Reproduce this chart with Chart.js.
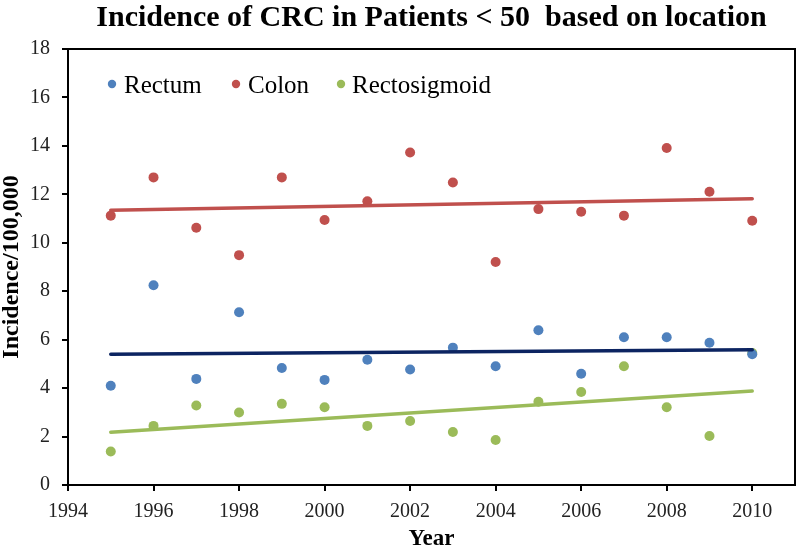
<!DOCTYPE html>
<html>
<head>
<meta charset="utf-8">
<script src="https://cdn.jsdelivr.net/npm/chart.js@4/dist/chart.umd.min.js"></script>
<style>
  html, body { margin: 0; padding: 0; background: #fff; }
  #wrap { width: 800px; height: 551px; }
</style>
</head>
<body>
<div id="wrap"><canvas id="crc_chart"></canvas></div>
<script>
// Values (incidence per 100,000, patients under 50)
const years = [1995, 1996, 1997, 1998, 1999, 2000, 2001, 2002, 2003, 2004, 2005, 2006, 2007, 2008, 2009, 2010];
const rectum = [4.1, 8.25, 4.38, 7.13, 4.83, 4.34, 5.17, 4.77, 5.67, 4.9, 6.39, 4.59, 6.1, 6.1, 5.87, 5.4];
const colon = [11.12, 12.7, 10.62, 9.49, 12.7, 10.94, 11.71, 13.73, 12.49, 9.21, 11.39, 11.28, 11.12, 13.91, 12.11, 10.91];
const rectosigmoid = [1.38, 2.44, 3.28, 2.99, 3.35, 3.21, 2.44, 2.64, 2.19, 1.86, 3.44, 3.84, 4.9, 3.21, 2.02, 5.45];

// Trend line end points, as drawn in the original
const trendYears = [1995, 2010];
const rectumTrend = [5.4, 5.58];
const colonTrend = [11.34, 11.82];
const rectosigmoidTrend = [2.18, 3.88];

const seriesNames = ['Rectum', 'Colon', 'Rectosigmoid'];
const yTicks = [0, 2, 4, 6, 8, 10, 12, 14, 16, 18];

const chartTitle = 'Incidence of CRC in Patients < 50  based on location';
const serif = '"Liberation Serif", "Times New Roman", serif';

function toPoints(xs, ys) {
    return xs.map((x, i) => ({ x: x, y: ys[i] }));
}

function pointSet(label, values, color) {
    return {
        label: label,
        data: toPoints(years, values),
        showLine: false,
        pointRadius: 5,
        pointHoverRadius: 5,
        pointBackgroundColor: color,
        pointBorderColor: color,
        pointBorderWidth: 0,
        backgroundColor: color,
        order: 1
    };
}

function trendSet(label, values, color) {
    return {
        label: label,
        data: toPoints(trendYears, values),
        showLine: true,
        borderColor: color,
        borderWidth: 3.5,
        borderCapStyle: 'round',
        pointRadius: 0,
        order: 0
    };
}

// Title centred on the plot area, plus the top/right frame and the inside legend
const decorPlugin = {
    id: 'decor',
    afterDraw(chart) {
        const ctx = chart.ctx;
        const a = chart.chartArea;
        ctx.save();

        // frame top and right
        ctx.strokeStyle = '#000';
        ctx.lineWidth = 2;
        ctx.beginPath();
        ctx.moveTo(a.left, a.top);
        ctx.lineTo(a.right, a.top);
        ctx.lineTo(a.right, a.bottom);
        ctx.stroke();

        // title
        ctx.fillStyle = '#000';
        ctx.font = 'bold 30px ' + serif;
        ctx.textAlign = 'center';
        ctx.textBaseline = 'alphabetic';
        ctx.fillText(chartTitle, (a.left + a.right) / 2, 26);

        // legend
        ctx.font = '25px ' + serif;
        ctx.textAlign = 'left';
        const legendX = [112, 236, 341];
        const textX = [124, 248, 352];
        seriesNames.forEach((name, i) => {
            const ds = chart.data.datasets[i];
            ctx.fillStyle = ds.pointBackgroundColor;
            ctx.beginPath();
            ctx.arc(legendX[i], 84, 4.2, 0, Math.PI * 2);
            ctx.fill();
            ctx.fillStyle = '#000';
            ctx.fillText(name, textX[i], 92.5);
        });
        ctx.restore();
    }
};

const config = {
    type: 'scatter',
    data: {
        datasets: [
            pointSet(seriesNames[0], rectum, '#4F81BD'),
            pointSet(seriesNames[1], colon, '#C0504D'),
            pointSet(seriesNames[2], rectosigmoid, '#9BBB59'),
            trendSet('Rectum trend', rectumTrend, '#0C2461'),
            trendSet('Colon trend', colonTrend, '#C0504D'),
            trendSet('Rectosigmoid trend', rectosigmoidTrend, '#9BBB59')
        ]
    },
    options: {
        responsive: true,
        maintainAspectRatio: false,
        animation: false,
        layout: { padding: { top: 49, right: 4, left: 0, bottom: 0 } },
        plugins: {
            legend: { display: false },
            title: { display: false },
            tooltip: { enabled: false }
        },
        scales: {
            x: {
                type: 'linear',
                min: 1994,
                max: 2011,
                afterFit(scale) { scale.height = 66; },
                border: { color: '#000', width: 2 },
                grid: { drawOnChartArea: false, color: '#000', lineWidth: 2, tickLength: 6 },
                ticks: {
                    stepSize: 2,
                    includeBounds: false,
                    color: '#222',
                    padding: 9,
                    font: { family: serif, size: 20 },
                    callback: v => String(v)
                },
                title: {
                    display: true,
                    text: 'Year',
                    color: '#000',
                    font: { family: serif, size: 23, weight: 'bold', lineHeight: 1 },
                    padding: { top: 8, bottom: 0 }
                }
            },
            y: {
                min: 0,
                max: 18,
                afterFit(scale) { scale.width = 68; },
                afterBuildTicks(scale) { scale.ticks = yTicks.map(v => ({ value: v })); },
                border: { color: '#000', width: 2 },
                grid: { drawOnChartArea: false, color: '#000', lineWidth: 2, tickLength: 6 },
                ticks: {
                    color: '#222',
                    padding: 12,
                    font: { family: serif, size: 20 }
                },
                title: {
                    display: true,
                    text: 'Incidence/100,000',
                    color: '#000',
                    font: { family: serif, size: 24, weight: 'bold', lineHeight: 1 },
                    padding: { top: 0, bottom: 0 }
                }
            }
        }
    },
    plugins: [decorPlugin]
};

const ctx = document.getElementById('crc_chart').getContext('2d');
new Chart(ctx, config);
</script>
</body>
</html>
